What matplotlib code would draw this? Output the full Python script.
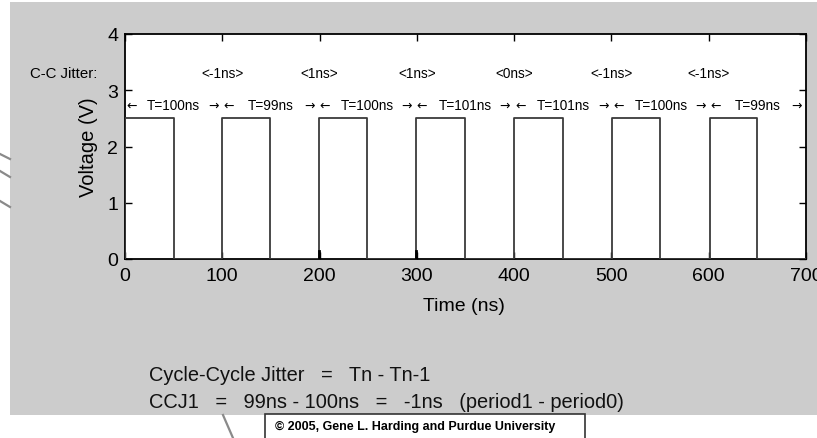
import matplotlib
matplotlib.use("Agg")
import matplotlib.pyplot as plt
import matplotlib.transforms as mtransforms
from matplotlib.patches import Rectangle
from matplotlib.lines import Line2D

# Clock periods (ns) and the resulting edge times
periods = [100, 99, 100, 101, 101, 100, 99]
rise_times = [0, 100, 199, 299, 400, 501, 601]
fall_times = [50, 149, 249, 349, 450, 550, 650]
period_bounds = [0, 100, 199, 299, 400, 501, 601, 700]
high_level = 2.5
# cycle-to-cycle jitter between consecutive periods (ns)
cc_jitter = [-1, 1, 1, 0, -1, -1]
jitter_positions = [100, 200, 300, 400, 500, 600]
# tiny glitches at the start of some pulses
glitch_times = [199, 299]
glitch_height = 0.15

x_ticks = [0, 100, 200, 300, 400, 500, 600, 700]
y_ticks = [0, 1, 2, 3, 4]

FONT = ["Liberation Sans", "DejaVu Sans"]
plt.rcParams["font.family"] = FONT

W, H = 817, 439
fig = plt.figure(figsize=(W / 100, H / 100), dpi=100)
fig.patch.set_facecolor("white")


def fx(px):
    return px / W


def fy(py):
    return 1 - py / H


# grey panel behind the plot
fig.patches.append(Rectangle((fx(10), fy(416)), fx(807), 413 / H,
                             transform=fig.transFigure, fc="#cccccc",
                             ec="none", zorder=-2))

# stray decorative strokes around the panel
for (x0, y0, x1, y1) in [(0, 155, 10, 160), (0, 172, 10, 178),
                         (0, 202, 10, 208), (223, 416, 233, 439)]:
    fig.lines.append(Line2D([fx(x0), fx(x1)], [fy(y0), fy(y1)],
                            transform=fig.transFigure, color="#8a8a8a",
                            lw=1.6, zorder=-1))

ax = fig.add_axes([fx(125), fy(260), 681 / W, 225 / H])
ax.set_zorder(5)
ax.set_facecolor("white")

# square-wave clock signal
xs, ys = [0], [0]
for r, f in zip(rise_times, fall_times):
    xs += [r, r, f, f]
    ys += [0, high_level, high_level, 0]
xs.append(700)
ys.append(0)
ax.plot(xs, ys, color="#3a3a3a", lw=1.3, zorder=3)
for g in glitch_times:
    ax.plot([g, g], [0, glitch_height], color="black", lw=2, zorder=3)

ax.set_xlim(0, 700)
ax.set_ylim(0, 4)
ax.set_xticks(x_ticks)
ax.set_yticks(y_ticks)
ax.tick_params(direction="in", top=True, right=True, length=5, width=1,
               labelsize=14, pad=5, colors="black")
ax.tick_params(axis="x", pad=6)
for s in ax.spines.values():
    s.set_linewidth(1.3)
    s.set_color("black")

ax.set_xlabel("Time (ns)", fontsize=14)
ax.xaxis.set_label_coords(0.497, -0.17)
ax.set_ylabel("Voltage (V)", fontsize=14.5)
ax.yaxis.set_label_coords(-0.040, 0.5)

small = 9.8
t_y = 2.74
ARROW_FONT = ["DejaVu Sans"]
# period labels with arrows spanning each cycle
for i, p in enumerate(periods):
    a, b = period_bounds[i], period_bounds[i + 1]
    ax.text(a + 1, t_y, "\u2190", fontsize=9, ha="left", va="center",
            family=ARROW_FONT)
    ax.text(b - 4, t_y, "\u2192", fontsize=9, ha="right", va="center",
            family=ARROW_FONT)
    ax.text((a + b) / 2, t_y, f"T={p}ns", fontsize=small, ha="center",
            va="center")

# cycle-to-cycle jitter row
j_y = 3.31
for x, j in zip(jitter_positions, cc_jitter):
    ax.text(x, j_y, f"<{j}ns>", fontsize=small, ha="center", va="center")

blend = mtransforms.blended_transform_factory(ax.transAxes, ax.transData)
ax.text(-0.041, j_y, "C-C Jitter:", fontsize=10.8, ha="right", va="center",
        transform=blend, clip_on=False)

# formula lines under the plot
fig.text(fx(149), fy(381.5), "Cycle-Cycle Jitter   =   Tn - Tn-1",
         fontsize=14.4, ha="left", va="baseline", color="#111111")
fig.text(fx(149), fy(408),
         "CCJ1   =   99ns - 100ns   =   -1ns   (period1 - period0)",
         fontsize=14.4, ha="left", va="baseline", color="#111111")

# copyright box
fig.patches.append(Rectangle((fx(265), fy(445)), fx(320), 30 / H,
                             transform=fig.transFigure, fc="white",
                             ec="#333333", lw=1.2, zorder=2))
fig.text(fx(275), fy(427), "\u00a9 2005, Gene L. Harding and Purdue University",
         fontsize=9, fontweight="bold", ha="left", va="center", zorder=3)

fig.savefig("out.png", dpi=100)
